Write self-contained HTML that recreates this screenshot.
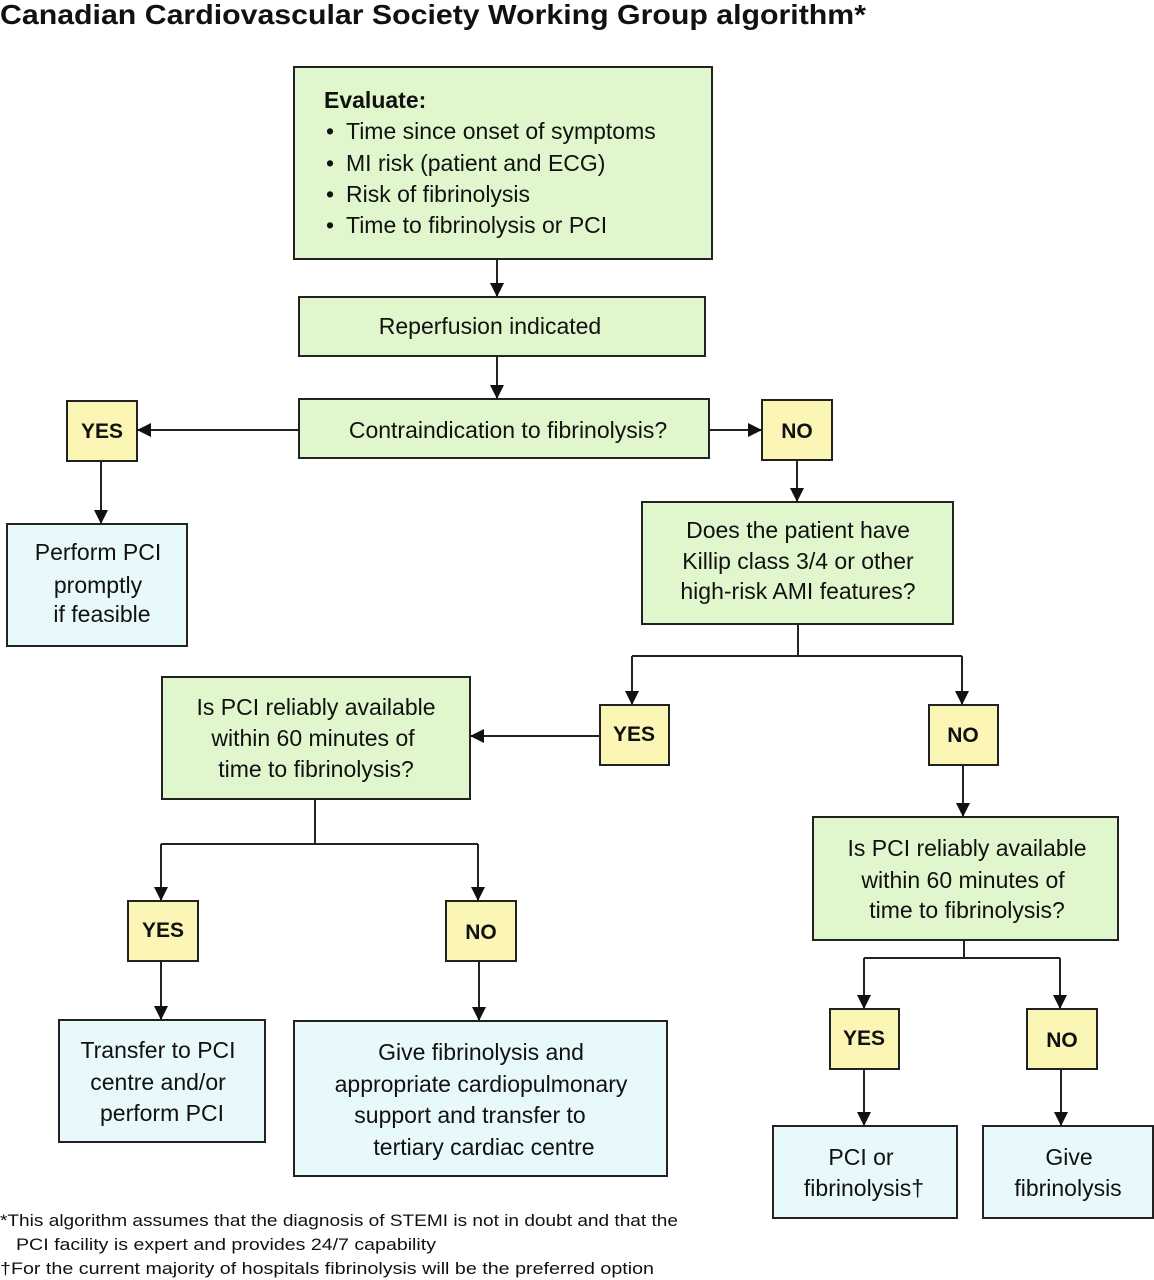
<!DOCTYPE html>
<html><head><style>body{margin:0;background:#fff}svg{display:block}</style></head><body>
<svg width="1154" height="1280" viewBox="0 0 1154 1280" xmlns="http://www.w3.org/2000/svg" font-family="Liberation Sans, sans-serif" fill="#111">
<defs><marker id="a" markerWidth="14" markerHeight="14" refX="13" refY="7" orient="auto" markerUnits="userSpaceOnUse"><path d="M0,0 L14,7 L0,14 z" fill="#111"/></marker></defs>
<text x="0" y="24" font-size="28" font-weight="bold" textLength="866" lengthAdjust="spacingAndGlyphs">Canadian Cardiovascular Society Working Group algorithm*</text>
<g stroke="#222" stroke-width="2">
<rect x="294" y="67" width="418" height="192" fill="#e0f7cd"/>
<rect x="299" y="297" width="406" height="59" fill="#e0f7cd"/>
<rect x="299" y="399" width="410" height="59" fill="#e0f7cd"/>
<rect x="642" y="502" width="311" height="122" fill="#e0f7cd"/>
<rect x="162" y="677" width="308" height="122" fill="#e0f7cd"/>
<rect x="813" y="817" width="305" height="123" fill="#e0f7cd"/>
<rect x="67" y="401" width="70" height="60" fill="#fbf6b6"/>
<rect x="762" y="400" width="70" height="60" fill="#fbf6b6"/>
<rect x="600" y="705" width="69" height="60" fill="#fbf6b6"/>
<rect x="929" y="705" width="69" height="60" fill="#fbf6b6"/>
<rect x="128" y="901" width="70" height="60" fill="#fbf6b6"/>
<rect x="446" y="901" width="70" height="60" fill="#fbf6b6"/>
<rect x="830" y="1009" width="69" height="60" fill="#fbf6b6"/>
<rect x="1027" y="1009" width="70" height="60" fill="#fbf6b6"/>
<rect x="7" y="524" width="180" height="122" fill="#e7f9fb"/>
<rect x="59" y="1020" width="206" height="122" fill="#e7f9fb"/>
<rect x="294" y="1021" width="373" height="155" fill="#e7f9fb"/>
<rect x="773" y="1126" width="184" height="92" fill="#e7f9fb"/>
<rect x="983" y="1126" width="170" height="92" fill="#e7f9fb"/>
</g>
<g stroke="#222" stroke-width="2" fill="none">
<path d="M497 259V296" marker-end="url(#a)"/>
<path d="M497 356V398" marker-end="url(#a)"/>
<path d="M299 430H138" marker-end="url(#a)"/>
<path d="M709 430H761" marker-end="url(#a)"/>
<path d="M101 461V523" marker-end="url(#a)"/>
<path d="M797 460V501" marker-end="url(#a)"/>
<path d="M798 624V656M632 656H962"/>
<path d="M632 656V704" marker-end="url(#a)"/>
<path d="M962 656V704" marker-end="url(#a)"/>
<path d="M600 736H471" marker-end="url(#a)"/>
<path d="M963 765V816" marker-end="url(#a)"/>
<path d="M315 799V844M161 844H478"/>
<path d="M161 844V900" marker-end="url(#a)"/>
<path d="M478 844V900" marker-end="url(#a)"/>
<path d="M161 961V1019" marker-end="url(#a)"/>
<path d="M479 961V1020" marker-end="url(#a)"/>
<path d="M964 940V958M864 958H1060"/>
<path d="M864 958V1008" marker-end="url(#a)"/>
<path d="M1060 958V1008" marker-end="url(#a)"/>
<path d="M864 1069V1125" marker-end="url(#a)"/>
<path d="M1061 1069V1125" marker-end="url(#a)"/>
</g>
<g font-size="23">
<text x="324" y="108" font-weight="bold">Evaluate:</text>
<text x="326" y="139">•</text><text x="346" y="139">Time since onset of symptoms</text>
<text x="326" y="171">•</text><text x="346" y="171">MI risk (patient and ECG)</text>
<text x="326" y="202">•</text><text x="346" y="202">Risk of fibrinolysis</text>
<text x="326" y="233">•</text><text x="346" y="233">Time to fibrinolysis or PCI</text>
</g>
<g font-size="23" text-anchor="middle">
<text x="490" y="334">Reperfusion indicated</text>
<text x="508" y="438">Contraindication to fibrinolysis?</text>
<text x="98" y="560">Perform PCI</text><text x="98" y="593">promptly</text><text x="102" y="622">if feasible</text>
<text x="798" y="538">Does the patient have</text><text x="798" y="569">Killip class 3/4 or other</text><text x="798" y="599">high-risk AMI features?</text>
<text x="316" y="715">Is PCI reliably available</text><text x="313" y="746">within 60 minutes of</text><text x="316" y="777">time to fibrinolysis?</text>
<text x="967" y="856">Is PCI reliably available</text><text x="963" y="888">within 60 minutes of</text><text x="967" y="918">time to fibrinolysis?</text>
<text x="158" y="1058">Transfer to PCI</text><text x="158" y="1090">centre and/or</text><text x="162" y="1121">perform PCI</text>
<text x="481" y="1060">Give fibrinolysis and</text><text x="481" y="1092">appropriate cardiopulmonary</text><text x="470" y="1123">support and transfer to</text><text x="484" y="1155">tertiary cardiac centre</text>
<text x="861" y="1165">PCI or</text><text x="864" y="1196">fibrinolysis†</text>
<text x="1069" y="1165">Give</text><text x="1068" y="1196">fibrinolysis</text>
</g>
<g font-size="21" font-weight="bold" text-anchor="middle">
<text x="102" y="438">YES</text>
<text x="797" y="438">NO</text>
<text x="634" y="741">YES</text>
<text x="963" y="742">NO</text>
<text x="163" y="937">YES</text>
<text x="481" y="939">NO</text>
<text x="864" y="1045">YES</text>
<text x="1062" y="1047">NO</text>
</g>
<g font-size="17">
<text x="0" y="1226" textLength="678" lengthAdjust="spacingAndGlyphs">*This algorithm assumes that the diagnosis of STEMI is not in doubt and that the</text>
<text x="16" y="1250" textLength="420" lengthAdjust="spacingAndGlyphs">PCI facility is expert and provides 24/7 capability</text>
<text x="0" y="1274" textLength="654" lengthAdjust="spacingAndGlyphs">†For the current majority of hospitals fibrinolysis will be the preferred option</text>
</g>
</svg>
</body></html>
